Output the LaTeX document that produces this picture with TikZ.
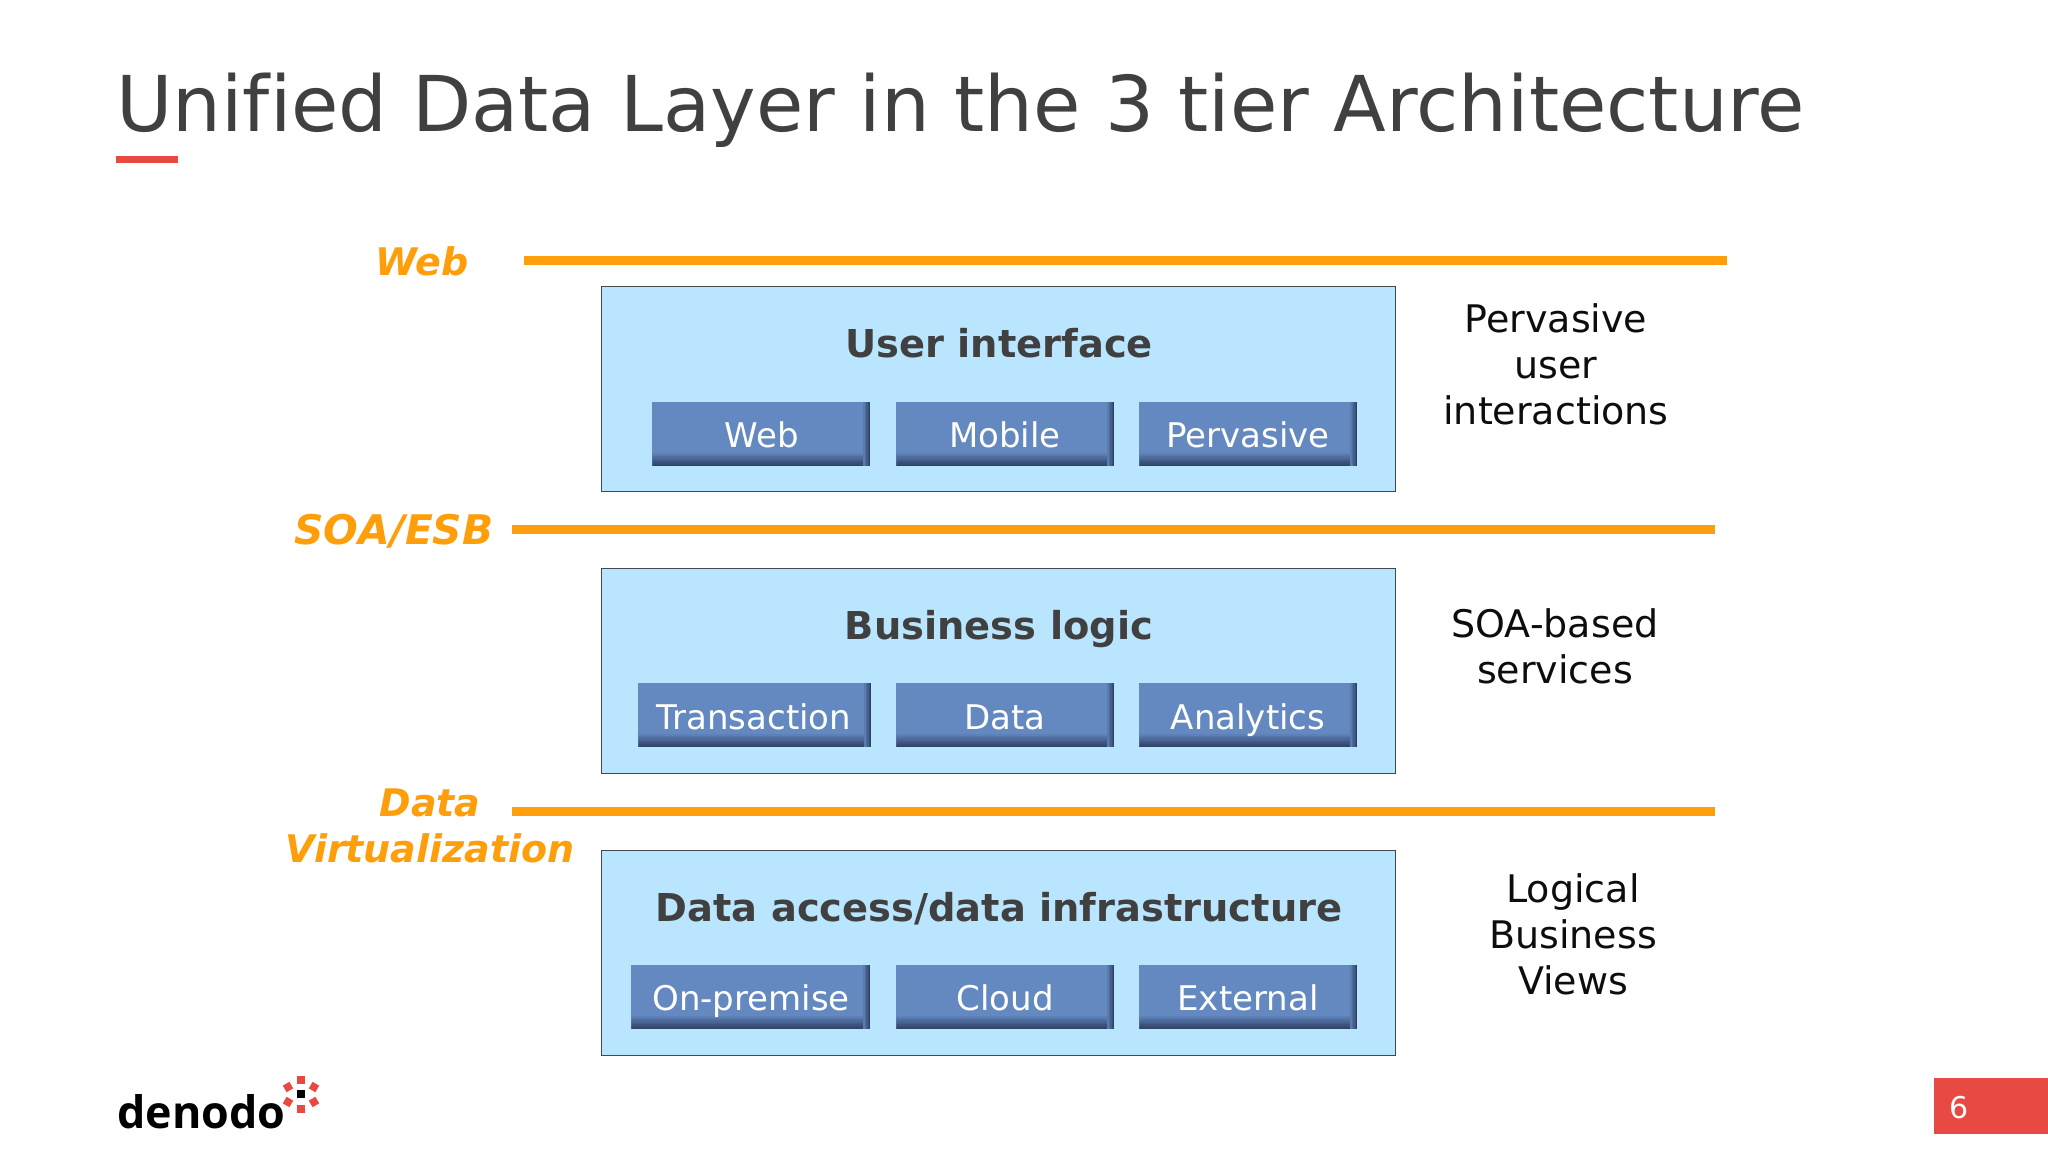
\documentclass[tikz,border=0pt]{standalone}
\usepackage{fontspec}
\setmainfont[Ligatures=NoCommon]{DejaVu Sans}
\newfontfamily\logofont{Open Sans}
\definecolor{titlegray}{HTML}{404040}
\definecolor{accentred}{HTML}{E84A43}
\definecolor{barorange}{HTML}{FF9E0B}
\definecolor{panelblue}{HTML}{B9E5FF}
\definecolor{panelline}{HTML}{3F4A4F}
\definecolor{btnblue}{HTML}{6489C1}
\definecolor{btndark}{HTML}{2F4266}
\tikzset{
  x=0.5pt,y=-0.5pt,
  panel/.style={draw=panelline,line width=0.6pt,fill=panelblue,minimum width=397pt,minimum height=102.3pt,inner sep=0,anchor=north west},
  btn/.style={fill=btnblue,inner sep=0,anchor=north west,minimum height=32pt,
    path picture={
      \foreach \k in {0,...,7}{
        \pgfmathsetmacro{\shadeamt}{(\k+1)*12.5}
        \fill[btndark!\shadeamt!btnblue]
          ([yshift={(8-\k)*0.85pt}]path picture bounding box.south west) rectangle
          ([yshift={(7-\k)*0.85pt}]path picture bounding box.south east);
      }
      \foreach \k in {0,...,4}{
        \pgfmathsetmacro{\shadeamt}{(\k+1)*20}
        \fill[btndark!\shadeamt!btnblue]
          ([xshift={-(5-\k)*0.7pt}]path picture bounding box.south east) rectangle
          ([xshift={-(4-\k)*0.7pt}]path picture bounding box.north east);
      }
    }},
  btntext/.style={text=white,font=\fontsize{17pt}{21pt}\selectfont,anchor=base,inner sep=0},
  head/.style={text=titlegray,font=\fontsize{19.2pt}{23pt}\bfseries\selectfont,anchor=base,inner sep=0},
  side/.style={text=black!95,font=\fontsize{19pt}{23pt}\selectfont,align=center,inner sep=0,anchor=center},
  tier/.style={text=barorange,font=\fontsize{19pt}{23pt}\bfseries\itshape\selectfont,align=center,inner sep=0,anchor=center},
  bar/.style={draw=barorange,line width=4.5pt},
  dot/.style={fill=accentred,minimum size=3.8pt,inner sep=0},
}
\begin{document}
\begin{tikzpicture}
\useasboundingbox (0,0) rectangle (2048,1152);
\fill[white] (0,0) rectangle (2048,1152);
\node[text=titlegray,font=\fontsize{38.5pt}{44pt}\selectfont,anchor=base west,inner sep=0] (title) at (116,131) {Unified Data Layer in the 3 tier Architecture};
\node[fill=accentred,minimum width=31pt,minimum height=3.5pt,inner sep=0,anchor=north west] (rule) at (116,156) {};

\coordinate (w1) at (524,260); \coordinate (w2) at (1727,260);
\coordinate (s1) at (512,529.5); \coordinate (s2) at (1715,529.5);
\coordinate (d1) at (512,811); \coordinate (d2) at (1715,811);
\draw[bar] (w1) -- (w2);
\draw[bar] (s1) -- (s2);
\draw[bar] (d1) -- (d2);
\node[tier] (tweb) at (422,261) {Web};
\node[tier,font=\fontsize{20.4pt}{23pt}\bfseries\itshape\selectfont] (tsoa) at (394,531) {SOA/ESB};
\node[tier] (tdv) at (430,826) {Data\\[0pt]Virtualization};

\node[panel] (p1) at (601,286) {};
\node[panel] (p2) at (601,568) {};
\node[panel] (p3) at (601,850) {};

\node[head] (h1) at (999,357) {User interface};
\node[head] (h2) at (999,639) {Business logic};
\node[head] (h3) at (999,921) {Data access/data infrastructure};

\node[btn,minimum width=109pt] (b11) at (652,402) {};
\node[btn,minimum width=109pt] (b12) at (896,402) {};
\node[btn,minimum width=109pt] (b13) at (1139,402) {};
\node[btn,minimum width=116.5pt] (b21) at (638,683) {};
\node[btn,minimum width=109pt] (b22) at (896,683) {};
\node[btn,minimum width=109pt] (b23) at (1139,683) {};
\node[btn,minimum width=119.5pt] (b31) at (631,965) {};
\node[btn,minimum width=109pt] (b32) at (896,965) {};
\node[btn,minimum width=109pt] (b33) at (1139,965) {};

\node[btntext] (t11) at (762,447) {Web};
\node[btntext] (t12) at (1005,447) {Mobile};
\node[btntext] (t13) at (1248,447) {Pervasive};
\node[btntext] (t21) at (754,729) {Transaction};
\node[btntext] (t22) at (1005,729) {Data};
\node[btntext] (t23) at (1248,729) {Analytics};
\node[btntext] (t31) at (751,1010) {On-premise};
\node[btntext] (t32) at (1005,1010) {Cloud};
\node[btntext] (t33) at (1248,1010) {External};

\node[side] (r1) at (1556,364) {Pervasive\\user\\interactions};
\node[side] (r2) at (1555,646.5) {SOA-based\\services};
\node[side] (r3) at (1573,934) {Logical\\Business\\Views};

\node[text=black,font=\logofont\fontsize{22.4pt}{30pt}\bfseries\selectfont,anchor=base west,inner sep=0] (logo) at (117,1128) {denodo};
\node[fill=black,minimum size=3.8pt,inner sep=0] (dc) at (301,1094) {};
\node[dot] (d0) at (301,1080) {};
\node[dot] (d4) at (301,1109) {};
\node[dot,rotate=30] (d1n) at (288,1087) {};
\node[dot,rotate=-30] (d2n) at (314,1087) {};
\node[dot,rotate=-30] (d3n) at (288,1102) {};
\node[dot,rotate=30] (d5n) at (314,1102) {};

\node[fill=accentred,minimum width=57pt,minimum height=28pt,inner sep=0,anchor=north west] (pg) at (1934,1078) {};
\node[text=white,font=\fontsize{15pt}{18pt}\selectfont,anchor=base,inner sep=0] (pgn) at (1959,1118) {6};
\end{tikzpicture}
\end{document}
